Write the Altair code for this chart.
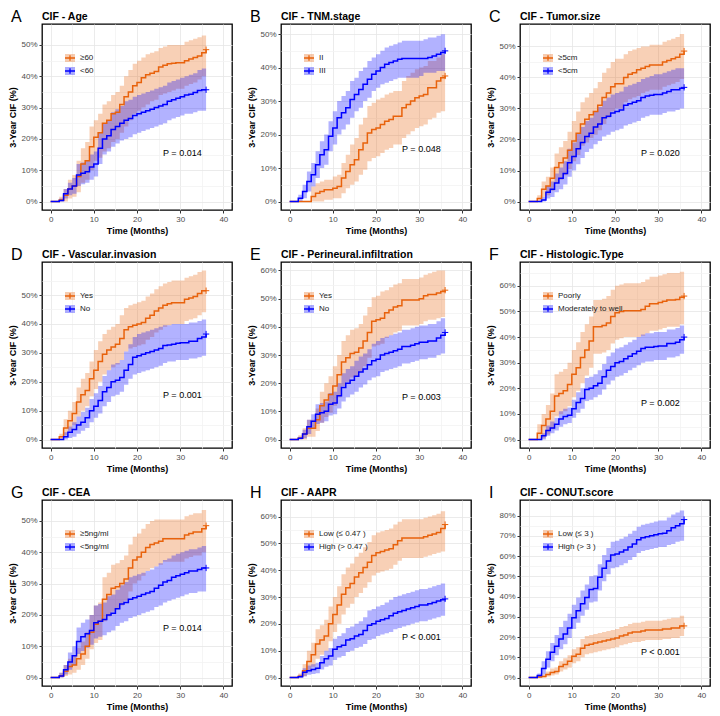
import altair as alt
import pandas as pd

FONT = "Liberation Sans"
ORANGE = "#E8620C"
BLUE = "#0000FF"

TIME = list(range(0, 37))

LETTERS = ["A", "B", "C", "D", "E", "F", "G", "H", "I"]
TITLES = ["CIF - Age", "CIF - TNM.stage", "CIF - Tumor.size",
          "CIF - Vascular.invasion", "CIF - Perineural.infiltration", "CIF - Histologic.Type",
          "CIF - CEA", "CIF - AAPR", "CIF - CONUT.score"]
GROUPS = [["≥60", "<60"], ["II", "III"], ["≥5cm", "<5cm"],
          ["Yes", "No"], ["Yes", "No"], ["Poorly", "Moderately to well"],
          ["≥5ng/ml", "<5ng/ml"], ["Low (≤ 0.47 )", "High (> 0.47 )"], ["Low (≤ 3 )", "High (> 3 )"]]
P_TEXT = ["P = 0.014", "P = 0.048", "P = 0.020", "P = 0.001", "P = 0.003", "P = 0.002",
          "P = 0.014", "P < 0.001", "P < 0.001"]
P_X = 30.5
P_Y = [15.6, 15.6, 15.5, 15.4, 15.1, 14.3, 15.9, 15.2, 12.6]

# ---- A: Age ----
A_o  = [0,0,0.5,2,4,5,8,12,13,17.5,20.5,22,25,26,28,28.5,31,33.5,35,37,38,39.5,40.5,41,41.5,43,43.5,44,44.2,44.3,44.3,45,45.5,46,46.5,47.5,48.5]
A_ol = [0,0,0,0,1,1.5,3,6,7,10,13,14,16,17,19,20,22,24,26,28,29,30,31,32,32.5,34,34.5,35,35.5,36,36,37,37.5,38,39,40,42]
A_ou = [0,0,1.5,4,7,8.5,13,17,19,24,26,28,31,32,34,35,37,40,42,44,45,46,47,47.5,48,49,49.5,50,50,50,50,51,51.5,52,52.5,53,54]
A_b  = [0,0,0.3,2.5,4,5,8.5,9,9.5,11,12,17,20,21,23,24,25,26,26.5,27.5,28,28.5,29,29.5,30,30.5,31,32,32.5,33,33.5,34,34.3,34.8,35.5,35.7,35.7]
A_bl = [0,0,0,1,2,2.5,5,5.5,6,7,8,12,15,16,17.5,18.5,19.5,20,20.5,21.5,22,22.5,23,23.5,24,24.5,25,26,26.5,27,27.5,28,28,28.5,29,29,29]
A_bu = [0,0,1,4,6,7.5,12,12.5,13,15,16,22,25,26,28.5,29.5,30.5,32,32.5,33.5,34,34.5,35,35.5,36,36.5,37,38,38.5,39,39.5,40,40.5,41,42,42.5,43]

# ---- B: TNM.stage ----
B_o  = [0,0,0,0,0,1.5,2.5,3,3.5,3.5,4,4.5,7,9,11,12.5,15.5,17.5,20.5,21.5,22,23,24,24.5,25.5,25.5,28,29,30,31,31.5,32,34,34,36,37,37.5]
B_ol = [0,0,0,0,0,0,0,0,0.5,0.5,1,1,2.5,4,5,6,8,9.5,12,13,13.5,14.5,15.5,16,17,17,19,20,21,22,22.5,23,24.5,25,26.5,27,27.5]
B_ou = [0,0,0,0,0,4.5,5.5,6,6.5,6.5,7.5,8,11.5,14,17,19,23,25,28.5,29.5,30.5,31,32,32.5,33,33,36,37.5,38.5,39.5,40,40.5,42,42,43,44,44.5]
B_b  = [0,0,1,3,6,8,11,14,15.5,19.5,22,25,26.5,28,30.5,32,33.5,35,36.5,38,39,40,41,41.5,42,42.5,42.7,42.7,42.7,42.7,42.7,42.7,43,43.5,44,44.5,45]
B_bl = [0,0,0,1,3,4.5,7,10,11,15,17,20,21.5,23,25,27,28,30,31,33,34,35,35.5,36,36.5,37,37,37,37,37,37.5,38.5,38.5,38.5,39,39,39]
B_bu = [0,0,2,5,9,11.5,15,18,20,24,27,30,31.5,33,36,37,39,40,42,43,44,45,46,46.5,47,47.5,48,48,48,48,48,48.5,49,49,49.5,50,50.5]

# ---- C: Tumor.size ----
C_o  = [0,0,1,4,5,7.5,11,12.5,14,16.5,19.5,22,25,26.5,28,29,31,33.5,35,37,38,38,40,41,41.5,42.5,43,43.5,44,44,44,45,45.5,46,46.5,47.5,48.5]
C_ol = [0,0,0,1.5,2,3.5,6,7,8.5,10.5,13,15,18,19,20.5,21.5,23,25,27,29,30,30,32,33,33.5,34,35,35.5,36,36,36,37,37.5,38,38.5,39.5,41]
C_ou = [0,0,2,6.5,8,11,15.5,17.5,19.5,22.5,26,29,32,33.5,35,36.5,38.5,41.5,43,45,46,46,47.5,48.5,49,49.5,50,50,50.5,50.5,50.5,51.5,52,52.5,53,54,54.5]
C_b  = [0,0,0,0.5,3,4,6,7.5,9,12.5,14.5,17,19,21,22,24,25,27,27.5,28.5,29,29.5,31,31.5,32,32.5,33.5,34,34.3,34.5,34.5,35,35.5,36,36,36.5,36.8]
C_bl = [0,0,0,0,1,1.5,3,4,5.5,8,10,12,14,16,17,18.5,19.5,21,21.5,22.5,23,23.5,24.5,25,25.5,26,27,27.5,28,28,28,28.5,29,29,29.5,30,30]
C_bu = [0,0,0,1.5,5,6.5,9,11,13,17,19,22,24,26,27,29,30.5,32.5,33.5,34.5,35,35.5,37,37.5,38,38.5,39.5,40,40.5,41,41,41.5,42,42.5,43,43,43.5]

# ---- D: Vascular.invasion ----
D_o  = [0,0,1,4,6.5,9,13,15.5,17,21,24,27,29.5,31,32,33,35,38,39,39.5,40,40.5,42,43,44.5,45.5,46.5,47,47.3,47.3,47.3,48.5,49,49.5,50.5,51.5,51.5]
D_ol = [0,0,0,1.5,3,5,8,10,11.5,15,17.5,20,22.5,24,25,26,27.5,30.5,31.5,32,32.5,33,34.5,35.5,37,38,39,39.5,40,40,40,41,41.5,42,43,44,44.5]
D_ou = [0,0,2,7,10,13,18,21,23,27,31,34,36.5,38,39,40,43,45.5,46.5,47,47.5,48,49.5,50.5,52,53,54,54.5,55,55,55,56,56.5,57,58,58.5,58.5]
D_b  = [0,0,0,1,2.5,3.5,5,6,7.5,10,11.5,13.5,16.5,18,20,20.5,21.5,24,26,28.5,29,29.5,30,30.5,31,31.5,32.5,32.7,33,33.3,33.5,33.5,34,34,35,35.5,36.5]
D_bl = [0,0,0,0,0.5,1,2,3,4,6,7.5,9,11.5,13,15,15.5,16.5,19,21,22.5,23,23.5,24,24.5,25,25.5,26.5,27,27,27.5,27.5,27.5,28,28,28.5,29,29.5]
D_bu = [0,0,0,2.5,4.5,6,8,9.5,11,14,16,18.5,22,24,26,26.5,27.5,30.5,33,35.5,36.5,37,37.5,38,38.5,39,39.5,39.5,40,40,40,40,40.5,40.5,41,41.5,42]

# ---- E: Perineural.infiltration ----
E_o  = [0,0,0.5,2,4,4,7,12,14,16,19,23,27.5,29,30.5,31,32.5,35,38,42,42.5,43,45,46,47,47.5,49.5,49.5,49.5,49.5,50,51,51.5,51.5,52,52.5,53]
E_ol = [0,0,0,0,1,1,3,6,8,9.5,12,15,19,20.5,22,22.5,24,26,29,33,33.5,34,36,37,38,38.5,40.5,40.5,40.5,40.5,41,42,42.5,42.5,43,43.5,44]
E_ou = [0,0,1.5,4,7,7,11,17,20,22.5,26,30,35,37,39,39.5,41,44,47,50.5,51,52.5,53,54,55,55.5,57,57,57,57,57.5,58.5,59,59.5,60,60,60]
E_b  = [0,0,0.5,2,4.5,6.5,9,9.5,10,12.5,13,15.5,18.5,20,21,22.5,24,25,26.5,28,28.5,30,30.5,31,31.5,32,33,33,33.5,34,34.5,34.5,35,35,36,37,38]
E_bl = [0,0,0,0.5,2,4,5.5,6,6.5,8.5,9,11,13.5,15,16,17,18.5,19.5,21,22,22.5,24,24.5,25,25.5,26,27,27,27.5,28,28.5,28.5,29,29,30,30.5,31.5]
E_bu = [0,0,1,3.5,7,9,12.5,13,13.5,16.5,17,20,23.5,25,26,28,29.5,30.5,32,34,35,36,36.5,37,37.5,38,39,39,39.5,40,40.5,40.5,41,41,42,43,43.5]

# ---- F: Histologic.Type ----
F_o  = [0,0,2.5,5.5,8,11,17,18,19,21.5,25.5,28,32,35,38.5,44,44,44.5,45.5,48,49.5,50,50.3,50.3,50.3,50.3,50.8,52,53,53,53.5,54,54.5,54.5,54.7,55.5,56]
F_ol = [0,0,0,0.5,2,4,9,10,11,13,16.5,19,22,25,28,33.5,33.5,34,35,37.5,39,39.5,40,40,40,40,40.5,41.5,42.5,42.5,43,43.5,44,44,44,45,45.5]
F_ou = [0,0,6,10,13.5,18,25.5,26.5,27.5,30,35,38,42,45,48,54.5,54.5,55,56,58.5,60,60.5,61,61,61,61,61.5,62.5,63.5,63.5,64,64.5,65,65,65,65.5,66]
F_b  = [0,0,0,1.5,3.5,4.5,6,8,9,9.5,12,14.5,16,19.5,20,21,22,24.5,27,28.5,30,30.5,31.5,32.5,33.5,34.5,35.5,36,36,36.3,36.5,36.5,37.5,37.5,38,39,40]
F_bl = [0,0,0,0,1.5,2.5,3.5,5,6,6.5,8.5,10.5,12,15,15.5,16.5,17.5,19.5,21.5,23,24.5,25,26,27,28,29,30,30.5,30.5,31,31,31,32,32,32.5,33.5,34.5]
F_bu = [0,0,0,2.5,5.5,7,8.5,11,12,12.5,15.5,18.5,20,24,24.5,25.5,27,29.5,32.5,34,35.5,36,37,38,39,40,41,41.5,41.5,42,42,42,43,43,43.5,44.5,45]

# ---- G: CEA ----
G_o  = [0,0,0.5,2,3.5,4,6,7.5,10,14.5,17,18,25,26.5,28.5,29,30,31.5,35,37.5,38.5,40,41.5,42.5,43,43.5,44.3,44.3,44.3,44.3,44.3,45.5,46,46.5,46.5,47.5,48.5]
G_ol = [0,0,0,0.5,1,1.5,2.5,4,6,9,11,12,18,19.5,21,22,23,24.5,27.5,30,31,32.5,34,35,35.5,36,37,37,37,37,37,38,38.5,39,39,40,42]
G_ou = [0,0,1.5,4,6,7,9.5,11.5,14.5,20,23,24,32,33.5,36,36.5,37.5,39,42.5,45,46,47.5,49,50,50.5,50.5,50.5,50.5,50.5,50.5,50.5,51.5,52,52.5,52.5,53.5,54]
G_b  = [0,0,0.5,2.5,5,7,11.5,13,14,15,17.5,18,18.5,20,20.5,22,23.5,24,25,25.5,26,26.5,27,27.5,28.5,29.5,30.5,31,32,32.5,33,33.5,34,34,34.5,35,35]
G_bl = [0,0,0,1,2.5,4,7.5,8.5,9.5,10.5,12.5,13,13.5,14.5,15,16.5,17.5,18,19,19.5,20,20.5,21,21.5,22.5,23,24,24.5,25,25.5,26,26.5,27,27,27.5,27.5,27.5]
G_bu = [0,0,1.5,4,8,10,16,17.5,18.5,20,23,23.5,24,26,26.5,28,29.5,30.5,32,32.5,33,33.5,34,34.5,35.5,36.5,37.5,38,39,39.5,40,40.5,41,41,41.5,42,42]

# ---- H: AAPR ----
H_o  = [0,0,0.5,2.5,6,8.5,12.5,14,15.5,20,23.5,27,31,33.5,35,37.5,39,41,43,45.5,46.5,47,47.5,48,49.5,51,52,52,52,52,52,52.5,53,53.5,54,55.5,57]
H_ol = [0,0,0,0.5,2.5,4,7,8.5,10,13.5,17,20,23.5,26,27.5,30,31.5,33.5,35.5,38,39,39.5,40,40.5,42,43.5,44.5,44.5,44.5,44.5,44.5,45,45.5,46,46.5,47,48]
H_ou = [0,0,1.5,5,10,13,18,19.5,21.5,26.5,30,34,38.5,41,42.5,45,46.5,48.5,50.5,53,54,54.5,55,55.5,57,58,59,59,59,59,59,59.5,60,60.5,61,62,63]
H_b  = [0,0,0.3,2,2.5,3,3.5,5.5,7,8,10.5,11.5,12,14,14.5,15.5,16,17.5,19.5,20,21,21.5,22,23,24,24.5,25,25.5,26,26.5,27,27,27.5,28,28.5,29,29.3]
H_bl = [0,0,0,0.5,1,1.3,1.6,3,4,4.5,6.5,7.5,8,9.5,10,11,11.5,12.5,14,14.5,15.5,16,16.5,17,18,18.5,19,19.5,20,20.5,21,21,21.5,22,22.5,23,23.5]
H_bu = [0,0,1,3.5,4.5,5,5.5,8,10,11,14.5,15.5,16.5,18.5,19,20,21,22.5,25,25.5,26.5,27,28,29,30,30.5,31,31.5,32,32.5,33,33,33.5,34,34.5,35,35.5]

# ---- I: CONUT.score ----
I_o  = [0,0,0.3,0.5,1.5,2.5,3,5.5,6.5,8,10.5,11.5,14.5,16,16.5,17,17.5,18,18.5,19,19.5,20.5,21,22,22.5,22.5,23,23.5,23.5,23.5,23.5,24,24,24.5,24.5,25.5,25.5]
I_ol = [0,0,0,0,0.5,1,1.5,3,4,5,7,8,10,11.5,12,12.5,13,13.5,14,14.5,15,16,16.5,17,17.5,17.5,18,18.5,18.5,18.5,18.5,19,19,19.5,19.5,20.5,20.5]
I_ou = [0,0,1,1.5,3,4.5,5,8,9.5,11,14,15,19,20.5,21,21.5,22,22.5,23,23.5,24,25,25.5,26.5,27,27,27.5,28,28,28,28,28.5,29,29.5,29.5,30.5,30.5]
I_b  = [0,0,1,4.5,9,12.5,15.5,19,21.5,24.5,29.5,33,36.5,39.5,43.5,44,49.5,54,57.5,60.5,61,62,63,64.5,66,68,69,69.5,70,70.5,71,71.2,72.5,74,75,76,78]
I_bl = [0,0,0,1.5,5,8,11,14,16.5,19.5,24,27,30.5,33.5,37,37.5,43,47.5,51,54,54.5,55.5,56.5,58,59.5,61.5,62.5,63,63.5,64,64.5,64.5,65.5,66,67,67.5,68]
I_bu = [0,0,2,8,13,17,21,25,28,31.5,36,39.5,43,46,50,50.5,56,60.5,64,67,67.5,68.5,69.5,71,72.5,74.5,75.5,76,76.5,77,77.5,77.5,79,80.5,81.5,82.5,83.5]

SERIES = [
    (A_o, A_ol, A_ou, A_b, A_bl, A_bu),
    (B_o, B_ol, B_ou, B_b, B_bl, B_bu),
    (C_o, C_ol, C_ou, C_b, C_bl, C_bu),
    (D_o, D_ol, D_ou, D_b, D_bl, D_bu),
    (E_o, E_ol, E_ou, E_b, E_bl, E_bu),
    (F_o, F_ol, F_ou, F_b, F_bl, F_bu),
    (G_o, G_ol, G_ou, G_b, G_bl, G_bu),
    (H_o, H_ol, H_ou, H_b, H_bl, H_bu),
    (I_o, I_ol, I_ou, I_b, I_bl, I_bu),
]

W, H = 190, 186

X_GRID = {"condition": {"test": "datum.value % 10 != 0", "value": "#F3F3F3"}, "value": "#E6E6E6"}
X_TICK = {"condition": {"test": "datum.value % 10 != 0", "value": 0}, "value": 1}
Y_GRID = {"condition": {"test": "round(datum.value*100) % 10 != 0", "value": "#F3F3F3"}, "value": "#E6E6E6"}
Y_TICK = {"condition": {"test": "round(datum.value*100) % 10 != 0", "value": 0}, "value": 1}


def panel(k):
    o, ol, ou, b, bl, bu = SERIES[k]
    labels = GROUPS[k]
    rows = []
    for lab, est, lo, hi in [(labels[0], o, ol, ou), (labels[1], b, bl, bu)]:
        for t, e, l, h in zip(TIME, est, lo, hi):
            rows.append({"time": t, "grp": lab, "grp2": lab,
                         "est": e / 100, "lo": l / 100, "hi": h / 100})
    df = pd.DataFrame(rows)

    m = max(max(ou), max(bu)) / 100
    ydom = [-0.05 * m, 1.05 * m]
    yvals = [round(j * 0.05, 2) for j in range(0, int(m * 20 + 1e-9) + 1)]

    xs = alt.Scale(domain=[-2, 42], nice=False, zero=False)
    ys = alt.Scale(domain=ydom, nice=False, zero=False)
    xaxis = alt.Axis(values=list(range(0, 41, 5)),
                     labelExpr="datum.value % 10 == 0 ? datum.label : ''",
                     title="Time (Months)", gridColor=X_GRID, tickOpacity=X_TICK)
    yaxis = alt.Axis(values=yvals, format=".0%",
                     labelExpr="round(datum.value*100) % 10 == 0 ? datum.label : ''",
                     title="3-Year CIF (%)", gridColor=Y_GRID, tickOpacity=Y_TICK)

    # data-driven domains (different fields) so that the two legends stay separate
    fill_scale = alt.Scale(range=[ORANGE, BLUE])
    stroke_scale = alt.Scale(range=[ORANGE, BLUE])

    fill_legend = alt.Legend(title=None, orient="none", legendX=22, legendY=28,
                             symbolType="M-1,-0.8H1V0.8H-1Z", symbolSize=100,
                             symbolOpacity=0.32, symbolStrokeWidth=1.3,
                             symbolStrokeColor="transparent",
                             labelFontSize=8, labelExpr="''", rowPadding=-1,
                             padding=0, labelOffset=4)
    stroke_legend = alt.Legend(title=None, orient="none", legendX=22, legendY=28,
                               symbolType="M-1,0H1M0,-0.55V0.55M-1,-0.8M1,0.8", symbolSize=100,
                               symbolStrokeWidth=1.3, symbolFillColor="transparent",
                               labelFontSize=8, labelColor="#1A1A1A", rowPadding=-1,
                               padding=0, labelOffset=4)

    base = alt.Chart(df)
    band = base.mark_area(interpolate="step-after", opacity=0.3).encode(
        x=alt.X("time:Q", scale=xs, axis=xaxis),
        y=alt.Y("lo:Q", scale=ys, axis=yaxis),
        y2="hi:Q",
        fill=alt.Fill("grp:N", scale=fill_scale, sort=labels, legend=fill_legend),
    )
    line = base.mark_line(interpolate="step-after", strokeWidth=1.5).encode(
        x=alt.X("time:Q", scale=xs, axis=xaxis),
        y=alt.Y("est:Q", scale=ys, axis=yaxis),
        stroke=alt.Stroke("grp2:N", scale=stroke_scale, sort=labels, legend=stroke_legend),
    )
    cross = base.transform_filter(alt.datum.time == 36).mark_point(
        shape="M-1,0H1M0,-1V1", size=40, filled=False, strokeWidth=1, opacity=1
    ).encode(
        x=alt.X("time:Q", scale=xs, axis=xaxis),
        y=alt.Y("est:Q", scale=ys, axis=yaxis),
        stroke=alt.Stroke("grp2:N", scale=stroke_scale, sort=labels, legend=stroke_legend),
    )
    ptxt = alt.Chart(pd.DataFrame({"x": [P_X], "y": [P_Y[k] / 100], "t": [P_TEXT[k]]})).mark_text(
        fontSize=9, font=FONT, color="black", align="center", baseline="middle"
    ).encode(
        x=alt.X("x:Q", scale=xs, axis=xaxis),
        y=alt.Y("y:Q", scale=ys, axis=yaxis),
        text="t:N",
    )
    head = pd.DataFrame({"letter": [LETTERS[k]], "title": [TITLES[k]]})
    letter = alt.Chart(head).mark_text(
        fontSize=16, font=FONT, color="black", align="left", baseline="alphabetic"
    ).encode(x=alt.value(-31), y=alt.value(-2), text="letter:N")
    title = alt.Chart(head).mark_text(
        fontSize=10.5, font=FONT, fontWeight="bold", color="black", align="left",
        baseline="alphabetic"
    ).encode(x=alt.value(0), y=alt.value(-4), text="title:N")

    return alt.layer(band, line, cross, ptxt, letter, title).properties(width=W, height=H)


panels = [panel(k) for k in range(9)]
rows = [
    alt.hconcat(*panels[r * 3:(r + 1) * 3], spacing=14)
    .resolve_scale(fill="independent", stroke="independent")
    .resolve_legend(fill="independent", stroke="independent")
    for r in range(3)
]

chart = alt.vconcat(*rows, spacing=10).resolve_scale(
    fill="independent", stroke="independent"
).resolve_legend(
    fill="independent", stroke="independent"
).properties(
    padding={"left": 0, "top": 0, "right": 0, "bottom": 0}, background="white"
).configure_view(
    stroke="black", strokeWidth=1.3
).configure_axis(
    labelFont=FONT, labelFontSize=8, labelColor="#4D4D4D",
    titleFont=FONT, titleFontSize=9, titleFontWeight="bold", titleColor="black",
    tickColor="#333333", tickSize=3, domain=False, labelPadding=2, titlePadding=3,
    gridWidth=0.8,
).configure_legend(
    labelFont=FONT
)

chart.save("out.html", embed_options={"renderer": "svg", "actions": False})
